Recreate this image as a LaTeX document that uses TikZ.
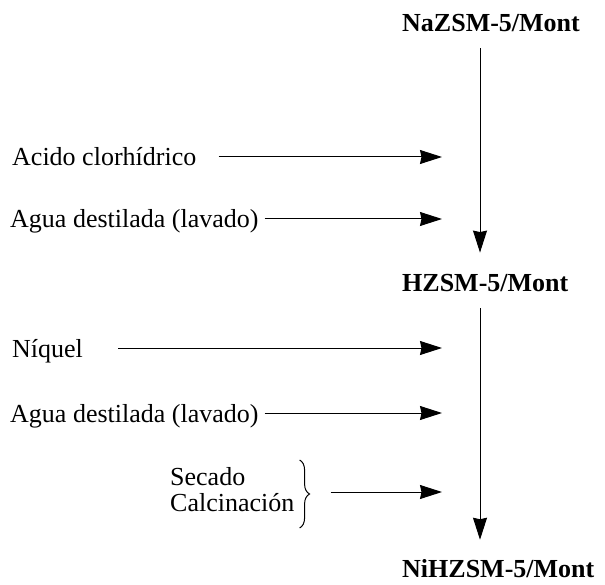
\documentclass[tikz,border=0pt]{standalone}
\usepackage{fontspec}
\setmainfont{Liberation Serif}
\usetikzlibrary{arrows.meta}
\usetikzlibrary{decorations.pathreplacing}

\begin{document}
\begin{tikzpicture}[
        x=1pt, y=-1pt,
        reagent/.style={
            anchor=base west,
            inner sep=0pt,
            font=\fontsize{26}{26}\selectfont,
        },
        product/.style={
            reagent,
            font=\fontsize{26}{26}\selectfont\bfseries,
        },
        flow/.style={
            -{Stealth[length=22pt,width=14pt,inset=1.5pt]},
            line width=1pt,
        }
    ]
    \useasboundingbox (0,0) rectangle (605,585);

    \coordinate (spine) at (480,0);

    \node (na) at (402,32) [product] {NaZSM-5/Mont};
    \node (hz) at (402,292) [product] {HZSM-5/Mont};
    \node (ni) at (402,577) [product] {NiHZSM-5/Mont};

    \node (acido) at (12,166) [reagent] {Acido clorhídrico};
    \node (agua1) at (10,228) [reagent] {Agua destilada (lavado)};
    \node (niquel) at (12,357) [reagent] {Níquel};
    \node (agua2) at (10,422) [reagent] {Agua destilada (lavado)};
    \node (secado) at (170,485) [reagent] {Secado};
    \node (calc) at (170,511) [reagent] {Calcinación};

    \coordinate (t1) at (442,157);
    \coordinate (t2) at (442,219);
    \coordinate (t3) at (442,348);
    \coordinate (t4) at (442,413);
    \coordinate (t5) at (442,492);

    \draw [flow, shorten <=16pt, shorten >=22pt] (na.south -| spine) -- (hz.north -| spine);
    \draw [flow, shorten <=16pt, shorten >=19pt] (hz.south -| spine) -- (ni.north -| spine);

    \draw [flow] ([xshift=22pt]acido.east |- t1) -- (t1);
    \draw [flow] ([xshift=6pt]agua1.east |- t2) -- (t2);
    \draw [flow] ([xshift=35pt]niquel.east |- t3) -- (t3);
    \draw [flow] ([xshift=6pt]agua2.east |- t4) -- (t4);

    \draw [line width=1pt, decorate, decoration={brace, amplitude=10pt}]
        ([xshift=5pt]calc.east |- 0,460) -- ([xshift=5pt]calc.east |- 0,528);
    \draw [flow] ([xshift=36pt]calc.east |- t5) -- (t5);

\end{tikzpicture}
\end{document}
